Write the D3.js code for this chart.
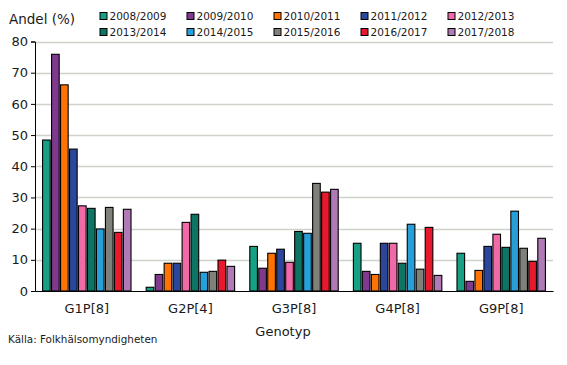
<!DOCTYPE html>
<html><head><meta charset="utf-8">
<script src="https://cdn.jsdelivr.net/npm/d3@7"></script>
<style>
html,body{margin:0;padding:0;background:#fff;}
svg text{font-family:"DejaVu Sans",Verdana,sans-serif;fill:#1a1a1a;}
</style></head>
<body><svg id="c" width="567" height="365"></svg>
<script>
const categories = ["G1P[8]","G2P[4]","G3P[8]","G4P[8]","G9P[8]"];
const seasons = ["2008/2009","2009/2010","2010/2011","2011/2012","2012/2013","2013/2014","2014/2015","2015/2016","2016/2017","2017/2018"];
const colors = ["#17a083","#7f3a8e","#ff7204","#2b469a","#ef6aa6","#0e7464","#27a0da","#80807a","#e8192c","#b07ab7"];
const s2008 = [48.4, 1.2, 14.3, 15.3, 12.1];
const s2009 = [75.9, 5.3, 7.3, 6.3, 3.1];
const s2010 = [66.1, 8.9, 12.1, 5.3, 6.6];
const s2011 = [45.5, 8.9, 13.4, 15.3, 14.3];
const s2012 = [27.3, 22.0, 9.2, 15.3, 18.2];
const s2013 = [26.5, 24.6, 19.1, 8.9, 14.0];
const s2014 = [19.9, 6.0, 18.5, 21.4, 25.6];
const s2015 = [26.8, 6.3, 34.5, 7.0, 13.7];
const s2016 = [18.8, 9.9, 31.7, 20.4, 9.5];
const s2017 = [26.2, 7.9, 32.6, 5.0, 16.9];
const series = [s2008,s2009,s2010,s2011,s2012,s2013,s2014,s2015,s2016,s2017];
const yTicks = [0,10,20,30,40,50,60,70,80];

const svg = d3.select("#c");
const L=35, R=553, T=41.5, B=291;
const x0 = d3.scaleBand().domain(categories).range([L,R]).paddingInner(0).paddingOuter(0);
const x1 = d3.scaleBand().domain(d3.range(seasons.length)).range([0,x0.bandwidth()]).paddingInner(0.15).paddingOuter(0.845);
const y = d3.scaleLinear().domain([0,80]).range([B,T]);

// gridlines
svg.append("g").selectAll("line").data(yTicks.filter(d=>d>0)).join("line")
  .attr("x1",L).attr("x2",R).attr("y1",d=>Math.round(y(d))+0.5).attr("y2",d=>Math.round(y(d))+0.5)
  .attr("stroke","#cdd3c8").attr("stroke-width",1.5);

// bars
const g = svg.append("g");
categories.forEach((c,ci)=>{
  series.forEach((s,si)=>{
    g.append("rect")
      .attr("x", x0(c)+x1(si))
      .attr("y", y(s[ci]))
      .attr("width", x1.bandwidth())
      .attr("height", B - y(s[ci]))
      .attr("fill", colors[si])
      .attr("stroke","#000").attr("stroke-width",1.1);
  });
});

// y axis
const ya = d3.axisLeft(y).tickValues(yTicks).tickSize(4).tickPadding(3);
const yg = svg.append("g").attr("transform",`translate(${L},0)`).call(ya);
yg.select(".domain").attr("stroke","#000");
yg.selectAll(".tick line").attr("stroke","#000");
yg.selectAll("text").attr("font-size","13px").style("fill","#1a1a1a");

// x axis
const xa = d3.axisBottom(x0).tickSize(0).tickPadding(13);
const xg = svg.append("g").attr("transform",`translate(0,${B})`).call(xa);
xg.select(".domain").attr("stroke","#000");
xg.selectAll("text").attr("font-size","13px").style("fill","#1a1a1a");

// titles
svg.append("text").attr("x",9).attr("y",24).attr("font-size","13.5px").text("Andel (%)");
svg.append("text").attr("x",283).attr("y",336).attr("text-anchor","middle").attr("font-size","13px").text("Genotyp");
svg.append("text").attr("x",8).attr("y",343).attr("font-size","10.4px").text("Källa: Folkhälsomyndigheten");

// legend
const lg = svg.append("g");
seasons.forEach((s,i)=>{
  const col = i%5, row = Math.floor(i/5);
  const lx = 100 + col*87, ly = 16 + row*16;
  lg.append("rect").attr("x",lx).attr("y",ly-3.5).attr("width",7).attr("height",7)
    .attr("fill",colors[i]).attr("stroke","#000").attr("stroke-width",1);
  lg.append("text").attr("x",lx+9.5).attr("y",ly+4).attr("font-size","10.5px").text(s);
});
</script></body></html>
